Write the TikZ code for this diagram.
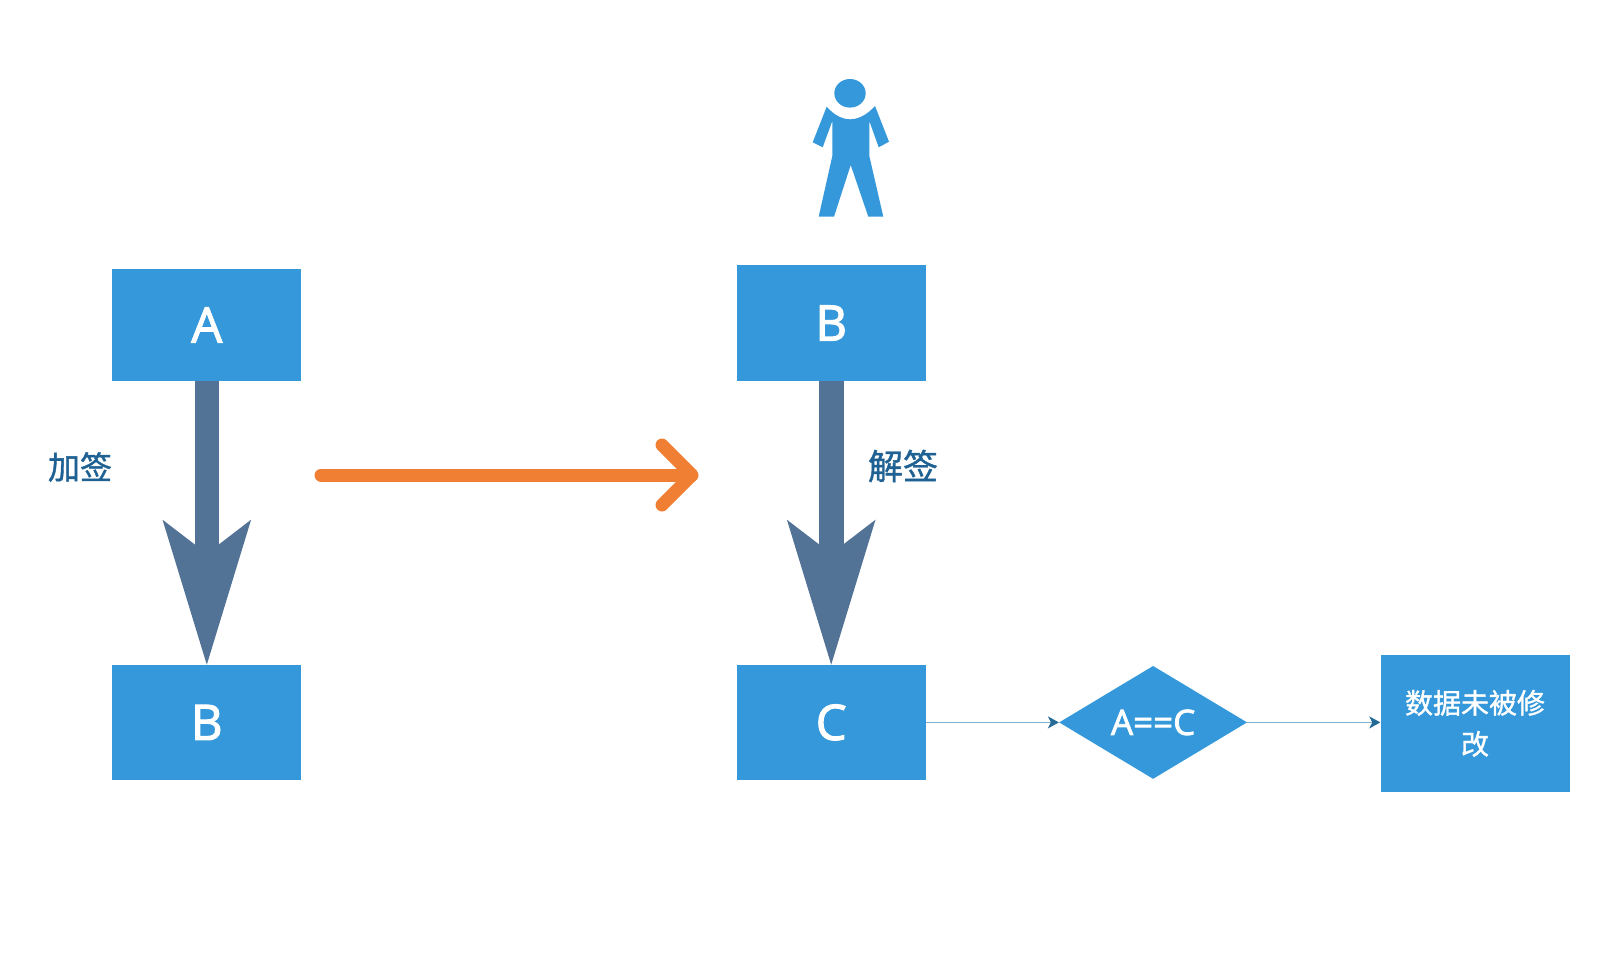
\documentclass[tikz,border=0pt]{standalone}
\usepackage{fontspec}
\setmainfont{Open Sans}[FakeBold=2.2]
\newfontfamily\cjk{Noto Sans CJK SC}[FakeBold=1.2]
\usetikzlibrary{arrows.meta,positioning,shapes.geometric}
\definecolor{SignBlue}{HTML}{3498DB}
\definecolor{SignSlate}{HTML}{527396}
\definecolor{SignOrange}{HTML}{F07F33}
\definecolor{SignText}{HTML}{1F6192}
\definecolor{SignLine}{HTML}{7FB0D0}
\definecolor{SignTip}{HTML}{266A96}
\begin{document}
\begin{tikzpicture}[
  x=1pt, y=-1pt,
  box/.style={fill=SignBlue, text=white, align=center, inner sep=0pt, minimum width=189pt, minimum height=115pt, font=\fontsize{49}{50}\selectfont},
  check/.style={diamond, fill=SignBlue, text=white, inner sep=0pt, aspect=1.67, minimum width=188pt, minimum height=113pt, font=\fontsize{35}{36}\selectfont},
  note/.style={text=SignText, inner sep=0pt, font=\cjk\fontsize{32}{36}\selectfont},
  bigflow/.style={draw=SignSlate, line width=24.6pt, -{Stealth[length=145pt, width=88.6pt, inset=34pt, line width=0pt, fill=SignSlate]}},
  thinflow/.style={draw=SignLine, line width=1.5pt, -{Stealth[length=11pt, width=12pt, inset=3pt, color=SignTip]}},
  send/.style={draw=SignOrange, line width=13pt, line cap=round, line join=bevel}
]
\useasboundingbox (0,0) rectangle (1600,974);
\node[box, minimum height=112pt] (a) at (206.8,325) {A};
\node[box, below=283.5pt of a] (b) {B};
\node[box, right=435pt of a, yshift=2pt, minimum height=116pt] (signed) {B};
\node[box, below=283.5pt of signed] (c) {C};
\node[check, right=133pt of c] (same) {A==C};
\node[box, right=133pt of same, yshift=-1pt, minimum height=137pt, font=\cjk\fontsize{28}{41}\selectfont] (intact) {数据未被修\\改};
\node[note] (addsign) at (80,467) {加签};
\node[note, font=\cjk\fontsize{35}{38}\selectfont] (checksign) at (903,466) {解签};
\coordinate (sendstart) at (321,475);
\coordinate (sendend) at (692,475);
\coordinate (sendup) at (662,445);
\coordinate (senddown) at (662,505);

\draw[bigflow] (a) -- (b);
\draw[bigflow] (signed) -- (c);
\draw[thinflow] (c) -- (same);
\draw[thinflow] (same) -- (same -| intact.west);
\draw[send] (sendstart) -- (sendend);
\draw[send] (sendup) -- (sendend) -- (senddown);

\fill[SignBlue] (850,93.3) ellipse [x radius=15.7, y radius=14.3];
\fill[SignBlue] (826.7,106.7) .. controls (834,115) and (842,119.3) .. (850,119.3) .. controls (858,119.3) and (867,115) .. (875,106)
  -- (889,141.7) -- (878.7,147.3) -- (869.3,121) -- (869.3,156) -- (883.3,216.7) -- (868.3,216.7) -- (850.7,165)
  -- (834,216.7) -- (818.7,216.7) -- (832.3,156) -- (832.3,121) -- (822.7,147.3) -- (812.7,142.3) -- cycle;
\end{tikzpicture}
\end{document}
